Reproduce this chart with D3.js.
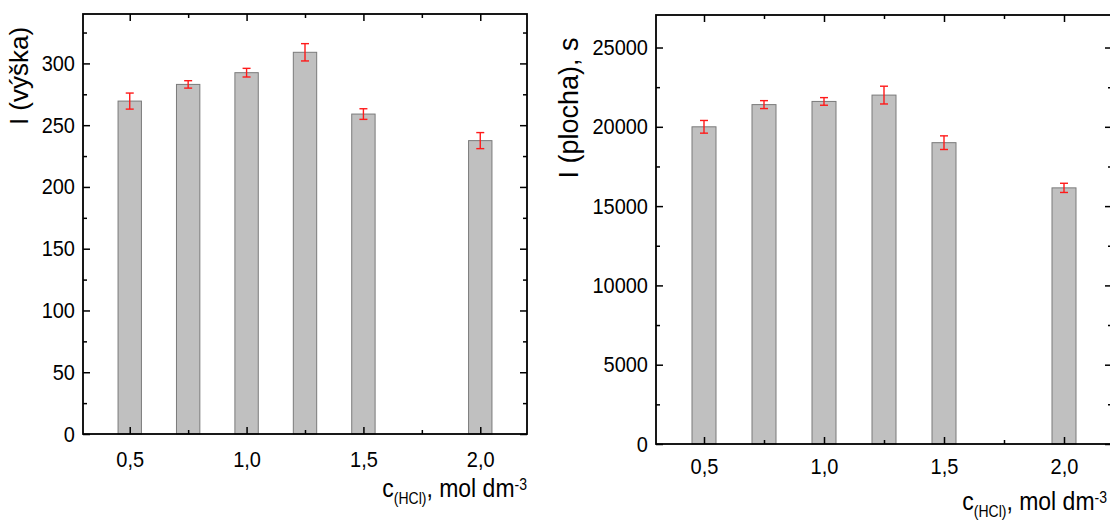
<!DOCTYPE html>
<html>
<head>
<meta charset="utf-8">
<script src="https://cdn.jsdelivr.net/npm/d3@7"></script>
<style>
  body { margin: 0; background: #fff; }
  text { font-family: "Liberation Sans", Arial, sans-serif; fill: #000; }
</style>
</head>
<body>
<div id="chart"></div>
<script>
// Data
var concentrations = [0.5, 0.75, 1.0, 1.25, 1.5, 2.0];
var heightValues = [269.5, 283, 292.5, 309, 259, 237.5];
var heightErrors = [6.5, 3, 3.5, 7, 4.3, 6.5];
var areaValues = [20000, 21400, 21600, 22000, 19000, 16150];
var areaErrors = [400, 250, 240, 560, 430, 290];
var xMajorTicks = [0.5, 1.0, 1.5, 2.0];
var xTickLabels = ["0,5", "1,0", "1,5", "2,0"];
var xMinorTicks = [0.75, 1.25, 1.75];
var heightTicks = [0, 50, 100, 150, 200, 250, 300];
var heightMinor = [25, 75, 125, 175, 225, 275, 325];
var areaTicks = [0, 5000, 10000, 15000, 20000, 25000];
var areaMinor = [2500, 7500, 12500, 17500, 22500];

var svgWidth = 1110;
var svgHeight = 524;

var svg = d3.select("#chart")
  .append("svg")
  .attr("width", svgWidth)
  .attr("height", svgHeight);

function drawPanel(cfg) {
  var x = d3.scaleLinear().domain([0.3, 2.2]).range([cfg.left, cfg.right]);
  var y = d3.scaleLinear().domain([0, cfg.yMax]).range([cfg.bottom, cfg.top]);
  var g = svg.append("g");

  var data = concentrations.map(function(c, i) {
    return { c: c, v: cfg.values[i], e: cfg.errors[i] };
  });

  // bars
  g.selectAll(".bar")
    .data(data)
    .enter()
    .append("rect")
    .attr("x", d => x(d.c - 0.05))
    .attr("y", d => y(d.v))
    .attr("width", d => x(d.c + 0.05) - x(d.c - 0.05))
    .attr("height", d => y(0) - y(d.v))
    .attr("fill", "#c0c0c0")
    .attr("stroke", "#7a7a7a")
    .attr("stroke-width", 1);

  // error bars
  var err = g.selectAll(".err")
    .data(data)
    .enter()
    .append("g")
    .attr("stroke", "#ff1a1a")
    .attr("stroke-width", 1.4);
  err.append("line")
    .attr("x1", d => x(d.c)).attr("x2", d => x(d.c))
    .attr("y1", d => y(d.v + d.e)).attr("y2", d => y(d.v - d.e));
  err.append("line")
    .attr("x1", d => x(d.c) - 4).attr("x2", d => x(d.c) + 4)
    .attr("y1", d => y(d.v + d.e)).attr("y2", d => y(d.v + d.e));
  err.append("line")
    .attr("x1", d => x(d.c) - 4).attr("x2", d => x(d.c) + 4)
    .attr("y1", d => y(d.v - d.e)).attr("y2", d => y(d.v - d.e));

  // axes, ticks pointing inward
  var bottomAxis = d3.axisBottom(x).tickValues(xMajorTicks)
    .tickFormat((d, i) => xTickLabels[i]).tickSizeInner(-7).tickSizeOuter(0).tickPadding(cfg.xPad);
  var bottomMinor = d3.axisBottom(x).tickValues(xMinorTicks)
    .tickFormat("").tickSizeInner(-4).tickSizeOuter(0);
  var topAxis = d3.axisTop(x).tickValues(xMajorTicks)
    .tickFormat("").tickSizeInner(-7).tickSizeOuter(0);
  var topMinor = d3.axisTop(x).tickValues(xMinorTicks)
    .tickFormat("").tickSizeInner(-4).tickSizeOuter(0);
  var leftAxis = d3.axisLeft(y).tickValues(cfg.yTicks)
    .tickFormat(d3.format("d")).tickSizeInner(-7).tickSizeOuter(0).tickPadding(8);
  var leftMinor = d3.axisLeft(y).tickValues(cfg.yMinor)
    .tickFormat("").tickSizeInner(-4).tickSizeOuter(0);
  var rightAxis = d3.axisRight(y).tickValues(cfg.yTicks)
    .tickFormat("").tickSizeInner(-7).tickSizeOuter(0);
  var rightMinor = d3.axisRight(y).tickValues(cfg.yMinor)
    .tickFormat("").tickSizeInner(-4).tickSizeOuter(0);

  var axes = [
    [bottomAxis, `translate(0, ${cfg.bottom})`],
    [bottomMinor, `translate(0, ${cfg.bottom})`],
    [topAxis, `translate(0, ${cfg.top})`],
    [topMinor, `translate(0, ${cfg.top})`],
    [leftAxis, `translate(${cfg.left}, 0)`],
    [leftMinor, `translate(${cfg.left}, 0)`],
    [rightAxis, `translate(${cfg.right}, 0)`],
    [rightMinor, `translate(${cfg.right}, 0)`]
  ];
  axes.forEach(function(a) {
    var ag = g.append("g").attr("transform", a[1]).call(a[0]);
    ag.select(".domain").remove();
    ag.selectAll("line").attr("stroke", "#000").attr("stroke-width", 1.5);
    // glyphs in the picture are slightly taller than wide
    ag.selectAll("text").attr("font-size", 20)
      .attr("transform", "scale(1, 1.1)")
      .attr("font-family", "'Liberation Sans', Arial, sans-serif").attr("fill", "#000");
  });

  // frame
  g.append("rect")
    .attr("x", cfg.left).attr("y", cfg.top)
    .attr("width", cfg.right - cfg.left).attr("height", cfg.bottom - cfg.top)
    .attr("fill", "none").attr("stroke", "#000").attr("stroke-width", 1.8);

  // y label
  g.append("text")
    .attr("transform", `translate(${cfg.yLabelX}, ${cfg.yLabelY}) rotate(-90)`)
    .attr("text-anchor", "middle")
    .attr("font-size", cfg.yLabelSize)
    .text(cfg.yLabel);

  // x label
  var xl = g.append("text")
    .attr("transform", `translate(${cfg.xLabelX}, ${cfg.xLabelY}) scale(1, 1.12)`)
    .attr("text-anchor", "end")
    .attr("font-size", 23);
  xl.append("tspan").text("c");
  xl.append("tspan").attr("font-size", 14).attr("dy", 6).text("(HCl)");
  xl.append("tspan").attr("dy", -6).text(", mol dm");
  xl.append("tspan").attr("font-size", 14).attr("dy", -6).text("-3");
}

drawPanel({
  left: 83, right: 527, top: 14, bottom: 434,
  yMax: 340,
  values: heightValues, errors: heightErrors,
  yTicks: heightTicks, yMinor: heightMinor,
  xPad: 16,
  yLabel: "I (výška)", yLabelX: 28, yLabelY: 76, yLabelSize: 26,
  xLabelX: 527, xLabelY: 497
});

drawPanel({
  left: 656, right: 1112, top: 15, bottom: 444,
  yMax: 27050,
  values: areaValues, errors: areaErrors,
  yTicks: areaTicks, yMinor: areaMinor,
  xPad: 13,
  yLabel: "I (plocha), s", yLabelX: 578, yLabelY: 108, yLabelSize: 27,
  xLabelX: 1107, xLabelY: 510
});
</script>
</body>
</html>
